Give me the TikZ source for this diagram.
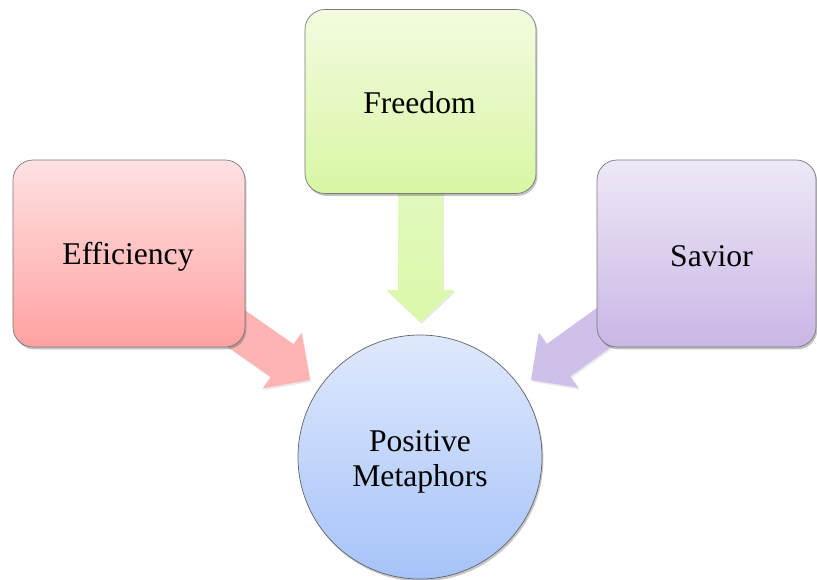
\documentclass[tikz,border=0pt]{standalone}
\usepackage{fontspec}
\setmainfont{Liberation Serif}
\usetikzlibrary{calc,shadows}
\definecolor{effTop}{HTML}{FFE1E1}
\definecolor{effBot}{HTML}{FFA2A2}
\definecolor{freTop}{HTML}{F3FBE0}
\definecolor{freBot}{HTML}{D8F7A4}
\definecolor{savTop}{HTML}{EEE8F7}
\definecolor{savBot}{HTML}{C9B6E5}
\definecolor{cirTop}{HTML}{DFE9FD}
\definecolor{cirBot}{HTML}{A6C3F9}
\definecolor{effArr}{HTML}{FFB4B4}
\definecolor{savArr}{HTML}{CFC0E9}
\definecolor{freArrTop}{HTML}{E6FACB}
\definecolor{freArrBot}{HTML}{DBF8A9}
\definecolor{edge}{HTML}{7A7A7A}
% #1 from, #2 tip, #3 shaft half width, #4 head half width, #5 head length, #6 style
\newcommand\blockarrow[6]{%
  \coordinate (ba-h) at ($(#2)!#5!(#1)$);
  \path[#6] ($(#1)!#3!90:(#2)$) -- ($(ba-h)!#3!90:(#2)$) -- ($(ba-h)!#4!90:(#2)$)
    -- (#2) -- ($(ba-h)!#4!-90:(#2)$) -- ($(ba-h)!#3!-90:(#2)$)
    -- ($(#1)!#3!-90:(#2)$) -- cycle;
}
\tikzset{
  box/.style={draw=edge, line width=0.6pt, rounded corners=0.6cm,
    drop shadow={shadow xshift=1.2pt, shadow yshift=-2pt, opacity=0.35, fill=black!70}},
  lbl/.style={align=center, inner sep=0pt, font=\rmfamily\fontsize{27}{30}\selectfont},
  arrshadow/.style={drop shadow={shadow xshift=1pt, shadow yshift=-1.5pt, opacity=0.15, fill=black!60}}
}
\begin{document}
\begin{tikzpicture}[x=0.03cm, y=-0.03cm]
\useasboundingbox (0,0) rectangle (817,579);
% arrow tips
\coordinate (tipE) at (310,380);
\coordinate (tipF) at (420.5,322);
\coordinate (tipS) at (531,380);
% centres of boxes used as arrow starts
\coordinate (cE) at (129,253.5);
\coordinate (cF) at (420.5,101.5);
\coordinate (cS) at (706.5,253.5);
% arrows (drawn first, boxes cover their tails)
\blockarrow{cE}{tipE}{0.6cm}{1.02cm}{1.02cm}{fill=effArr, arrshadow}
\blockarrow{cS}{tipS}{0.6cm}{1.02cm}{1.02cm}{fill=savArr, arrshadow}
\blockarrow{cF}{tipF}{0.675cm}{1.02cm}{0.96cm}{top color=freArrTop, bottom color=freArrBot, arrshadow}
% boxes
\node[box, top color=effTop, bottom color=effBot, minimum width=6.96cm, minimum height=5.61cm] (eff) at (cE) {};
\node[box, top color=freTop, bottom color=freBot, minimum width=6.93cm, minimum height=5.52cm] (fre) at (cF) {};
\node[box, top color=savTop, bottom color=savBot, minimum width=6.57cm, minimum height=5.61cm] (sav) at (cS) {};
\node[circle, draw=edge!80!black, line width=0.6pt, top color=cirTop, bottom color=cirBot,
  minimum size=7.32cm, inner sep=0pt,
  drop shadow={shadow xshift=1.2pt, shadow yshift=-2pt, opacity=0.3, fill=black!70}]
  (pm) at (420,457) {};
% labels
\node[lbl] (effT) at (128,256.5) {Efficiency};
\node[lbl] (freT) at (419.5,103) {Freedom};
\node[lbl] (savT) at (711.5,256.5) {Savior};
\node[lbl] (pmT) at (420,462) {Positive\\Metaphors};
\end{tikzpicture}
\end{document}
